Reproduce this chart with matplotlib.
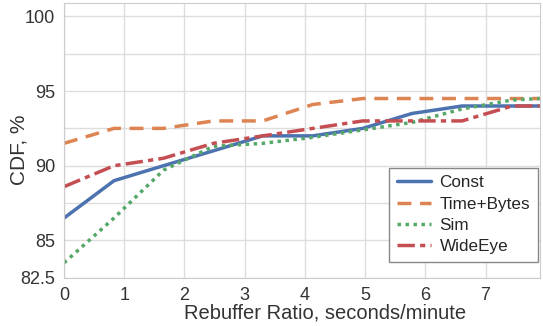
import matplotlib
matplotlib.use("Agg")
import matplotlib.pyplot as plt
import seaborn as sns

sns.set_style("whitegrid")
plt.rcParams['font.family'] = ['Liberation Sans', 'DejaVu Sans']

# rebuffer ratio sample points (seconds/minute)
x = [0, 0.83, 1.65, 2.48, 3.3, 4.13, 4.96, 5.78, 6.61, 7.44, 7.9]

const = [86.5, 89.0, 90.0, 91.0, 92.0, 92.0, 92.5, 93.5, 94.0, 94.0, 94.0]
time_bytes = [91.5, 92.5, 92.5, 93.0, 93.0, 94.1, 94.5, 94.5, 94.5, 94.5, 94.5]
sim = [83.5, 86.5, 89.7, 91.3, 91.5, 91.9, 92.4, 92.9, 93.8, 94.4, 94.5]
wideeye = [88.6, 90.0, 90.5, 91.5, 92.0, 92.5, 93.0, 93.0, 93.0, 94.0, 94.0]

yticks = [82.5, 85, 87.5, 90, 92.5, 95, 97.5, 100]
ytick_labels = ['82.5', '85', '', '90', '', '95', '', '100']

fig = plt.figure(figsize=(5.43, 3.26), dpi=100)
ax = fig.add_axes([0.118, 0.148, 0.876, 0.843])

pal = sns.color_palette("deep")
ax.plot(x, const, color=pal[0], lw=2.5, ls='-', label='Const')
ax.plot(x, time_bytes, color=pal[1], lw=2.5, ls=(0, (4, 2.5)), label='Time+Bytes')
ax.plot(x, sim, color=pal[2], lw=2.5, ls=(0, (1, 1.3)), label='Sim')
ax.plot(x, wideeye, color=pal[3], lw=2.5, ls=(0, (5, 1.5, 1.5, 1.5)), label='WideEye')

ax.set_xlim(0, 7.9)
ax.set_ylim(82.5, 100.9)
ax.set_xticks(range(8))
ax.set_yticks(yticks)
ax.set_yticklabels(ytick_labels)
ax.tick_params(labelsize=13, colors='#333333', pad=3)
ax.set_xlabel('Rebuffer Ratio, seconds/minute', fontsize=14.5, color='#333333')
ax.set_ylabel('CDF, %', fontsize=15, color='#333333')
ax.xaxis.set_label_coords(0.548, -0.095)
ax.yaxis.set_label_coords(-0.075, 0.465)
ax.grid(color='#dddddd', lw=1)
for s in ax.spines.values():
    s.set_color('#cccccc')

leg = ax.legend(loc='lower right', fontsize=12.3, fancybox=False, framealpha=1,
                handlelength=2.0, handletextpad=0.5, borderpad=0.45,
                labelspacing=0.37, borderaxespad=0,
                bbox_to_anchor=(0.996, 0.057))
leg.get_frame().set_edgecolor('#888888')

fig.savefig('out.png', dpi=100)
